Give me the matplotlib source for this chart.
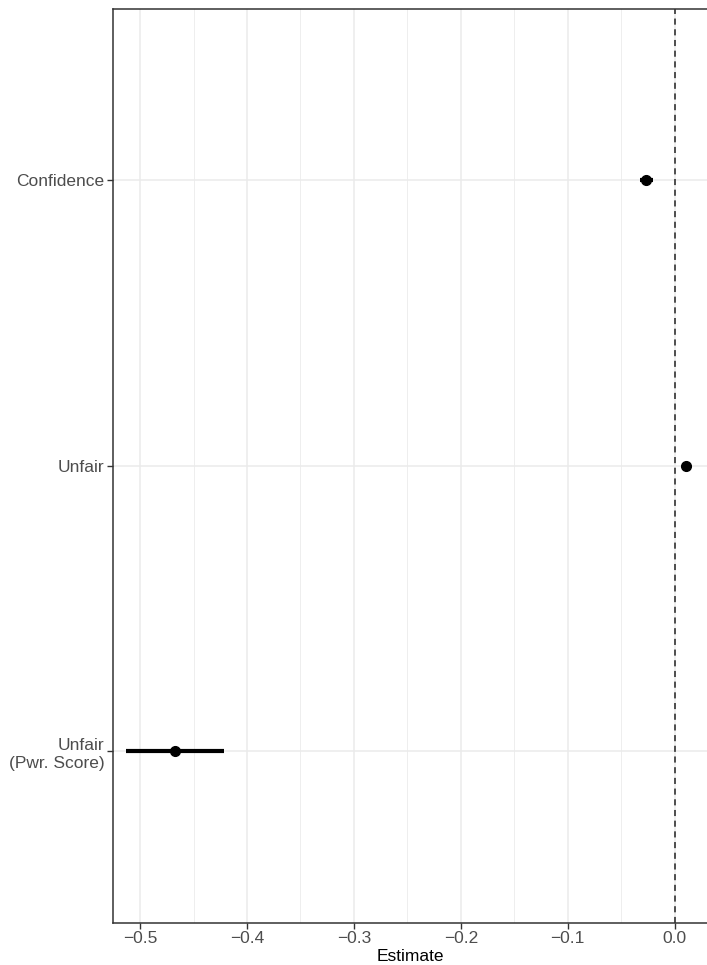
import matplotlib
matplotlib.use("Agg")
import matplotlib.pyplot as plt
from matplotlib.ticker import MultipleLocator

# Coefficient estimates with confidence bounds
terms = ["Confidence", "Unfair", "Unfair\n(Pwr. Score)"]
estimates = [-0.0265, 0.0103, -0.467]
lower = [-0.0328, 0.0068, -0.5134]
upper = [-0.0203, 0.0138, -0.4212]

plt.rcParams["font.family"] = ["Liberation Sans", "DejaVu Sans"]

fig = plt.figure(figsize=(7.07, 9.65), dpi=100)
W, H = 707, 965
left, right, top, bottom = 112.5, 708.5, 8.5, 922.7
ax = fig.add_axes([left / W, 1 - bottom / H, (right - left) / W, (bottom - top) / H])
ax.set_axisbelow(True)

ypos = [3, 2, 1]
ax.set_ylim(0.4, 3.6)
ax.set_xlim(-0.5258, 0.0316)

# grid
ax.xaxis.set_major_locator(MultipleLocator(0.1))
ax.xaxis.set_minor_locator(MultipleLocator(0.05))
ax.grid(True, which="major", axis="both", color="#EBEBEB", lw=1.1)
ax.grid(True, which="minor", axis="x", color="#EBEBEB", lw=0.6)

ax.axvline(0, color="#222222", lw=1.1, ls=(0, (4, 3)), zorder=2)

for y, est, lo, hi in zip(ypos, estimates, lower, upper):
    ax.plot([lo, hi], [y, y], color="black", lw=3, solid_capstyle="butt", zorder=3)
    ax.plot([est], [y], "o", color="black", ms=7, zorder=4)

ax.set_yticks(ypos)
ax.set_yticklabels(terms, linespacing=1.3)
ax.set_xticks([-0.5, -0.4, -0.3, -0.2, -0.1, 0.0])
ax.set_xticklabels(["\u22120.5", "\u22120.4", "\u22120.3", "\u22120.2", "\u22120.1", "0.0"])

ax.tick_params(axis="both", which="major", length=4, width=1, color="#333333",
               labelcolor="#4D4D4D", labelsize=12.5, pad=2)
ax.tick_params(axis="both", which="minor", length=0)
for lab in ax.get_yticklabels():
    lab.set_multialignment("right")

for side in ["left", "bottom", "top"]:
    ax.spines[side].set_color("#333333")
    ax.spines[side].set_linewidth(1.1)
ax.spines["right"].set_visible(False)

ax.set_xlabel("Estimate", fontsize=12.5, color="black", labelpad=2)

fig.savefig("out.png", dpi=100)
